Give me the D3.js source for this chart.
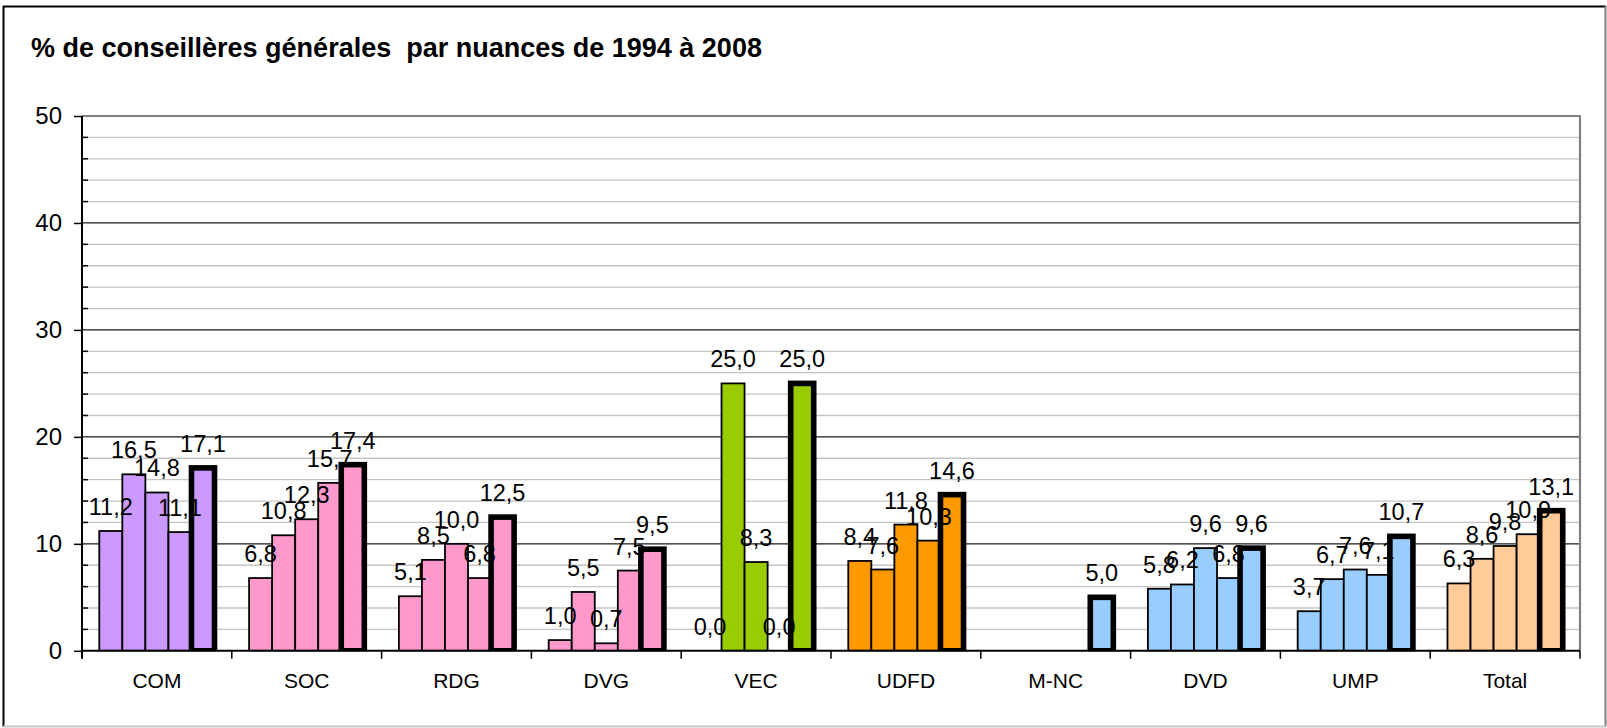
<!DOCTYPE html>
<html>
<head>
<meta charset="utf-8">
<script src="https://cdn.jsdelivr.net/npm/d3@7"></script>
<style>
  html, body { margin: 0; padding: 0; background: #fff; }
  svg { display: block; }
  text { font-family: "Liberation Sans", Arial, sans-serif; fill: #000; }
</style>
</head>
<body>
<svg id="chart" width="1607" height="728"></svg>
<script>
// ---- Data ----
const title = "% de conseillères générales  par nuances de 1994 à 2008";
const categories = ["COM", "SOC", "RDG", "DVG", "VEC", "UDFD", "M-NC", "DVD", "UMP", "Total"];
const years = ["1994", "1998", "2001", "2004", "2008"];
const v1994 = [11.2, 6.8, 5.1, 1.0, 0.0, 8.4, null, 5.8, 3.7, 6.3];
const v1998 = [16.5, 10.8, 8.5, 5.5, 25.0, 7.6, null, 6.2, 6.7, 8.6];
const v2001 = [14.8, 12.3, 10.0, 0.7, 8.3, 11.8, null, 9.6, 7.6, 9.8];
const v2004 = [11.1, 15.7, 6.8, 7.5, 0.0, 10.3, null, 6.8, 7.1, 10.9];
const v2008 = [17.1, 17.4, 12.5, 9.5, 25.0, 14.6, 5.0, 9.6, 10.7, 13.1];
const categoryColors = ["#CC99FF", "#FF99CC", "#FF99CC", "#FF99CC", "#99CC00", "#FF9900", "#99CCFF", "#99CCFF", "#99CCFF", "#FFCC99"];
const yTickLabels = [0, 10, 20, 30, 40, 50];
const yMinorTicks = [2, 4, 6, 8, 12, 14, 16, 18, 22, 24, 26, 28, 32, 34, 36, 38, 42, 44, 46, 48];

const seriesValues = [v1994, v1998, v2001, v2004, v2008];

// ---- Layout ----
const W = 1607, H = 728;
const plot = { left: 82, right: 1580, top: 116, bottom: 650.8 };

const svg = d3.select("#chart");
svg.append("rect").attr("width", W).attr("height", H).attr("fill", "#fff");

// outer frame
svg.append("line").attr("x1", 3.5).attr("y1", 6).attr("x2", 3.5).attr("y2", 727).attr("stroke", "#000").attr("stroke-width", 2);
svg.append("line").attr("x1", 3).attr("y1", 6.5).attr("x2", 1606).attr("y2", 6.5).attr("stroke", "#000").attr("stroke-width", 2);
svg.append("line").attr("x1", 1605.5).attr("y1", 6).attr("x2", 1605.5).attr("y2", 727).attr("stroke", "#808080").attr("stroke-width", 2);
svg.append("line").attr("x1", 3).attr("y1", 726.5).attr("x2", 1606).attr("y2", 726.5).attr("stroke", "#c8c8c8").attr("stroke-width", 2);

// title
svg.append("text").attr("x", 31).attr("y", 57)
  .attr("font-size", 27).attr("font-weight", "bold")
  .style("white-space", "pre").attr("xml:space", "preserve")
  .text(title);

// scales
const y = d3.scaleLinear().domain([0, 50]).range([plot.bottom, plot.top]);
const x = d3.scaleBand().domain(categories).range([plot.left, plot.right]).paddingInner(0).paddingOuter(0);
const xs = d3.scaleBand().domain(years).range([0, x.bandwidth()]).paddingInner(0).paddingOuter(0.75);

const locale = d3.formatLocale({ decimal: ",", thousands: " ", grouping: [3], currency: ["", " €"] });
const fmt = locale.format(".1f");

// minor gridlines
svg.append("g").selectAll("line").data(yMinorTicks).join("line")
  .attr("x1", plot.left).attr("x2", plot.right)
  .attr("y1", d => y(d)).attr("y2", d => y(d))
  .attr("stroke", "#c4c4c4").attr("stroke-width", 1.3);

// major gridlines
svg.append("g").selectAll("line").data(yTickLabels.filter(d => d > 0 && d < 50)).join("line")
  .attr("x1", plot.left).attr("x2", plot.right)
  .attr("y1", d => y(d)).attr("y2", d => y(d))
  .attr("stroke", "#1a1a1a").attr("stroke-width", 1.2);

// plot area border (top / right)
svg.append("line").attr("x1", plot.left).attr("x2", plot.right + 1)
  .attr("y1", y(50)).attr("y2", y(50)).attr("stroke", "#808080").attr("stroke-width", 2.2);
svg.append("line").attr("x1", plot.right).attr("x2", plot.right)
  .attr("y1", y(50)).attr("y2", plot.bottom).attr("stroke", "#808080").attr("stroke-width", 2.2);

// clip for bars
svg.append("clipPath").attr("id", "plotclip").append("rect")
  .attr("x", plot.left).attr("y", plot.top - 20).attr("width", plot.right - plot.left).attr("height", plot.bottom - plot.top + 20.5);

// bars
const barData = [];
categories.forEach((c, ci) => {
  seriesValues.forEach((arr, si) => {
    const v = arr[ci];
    if (v !== null && v !== undefined) barData.push({ c, ci, year: years[si], si, v });
  });
});

const barsG = svg.append("g").attr("clip-path", "url(#plotclip)");
barsG.selectAll("rect").data(barData).join("rect")
  .attr("x", d => x(d.c) + xs(d.year))
  .attr("width", xs.bandwidth())
  .attr("y", d => y(d.v))
  .attr("height", d => y(0) - y(d.v))
  .attr("fill", d => categoryColors[d.ci])
  .attr("stroke", "#000")
  .attr("stroke-width", d => d.si === years.length - 1 ? 5.6 : 1.8);

// y axis
const yAxis = d3.axisLeft(y).tickValues(yTickLabels).tickSize(8).tickPadding(12).tickFormat(d3.format("d"));
const yg = svg.append("g").attr("transform", `translate(${plot.left},0)`).call(yAxis);
yg.select(".domain").remove();
yg.selectAll(".tick line").attr("stroke", "#000").attr("stroke-width", 1.5);
yg.selectAll(".tick text").attr("font-size", 24).attr("font-family", "'Liberation Sans', Arial, sans-serif").attr("fill", "#000");

// minor ticks inside
svg.append("g").selectAll("line").data(yMinorTicks).join("line")
  .attr("x1", plot.left).attr("x2", plot.left + 6)
  .attr("y1", d => y(d)).attr("y2", d => y(d))
  .attr("stroke", "#000").attr("stroke-width", 1.5);

// x axis: category labels
const xAxis = d3.axisBottom(x).tickSize(0).tickPadding(0);
const xg = svg.append("g").attr("transform", `translate(0,${plot.bottom})`).call(xAxis);
xg.select(".domain").remove();
xg.selectAll(".tick text").attr("font-size", 21).attr("font-family", "'Liberation Sans', Arial, sans-serif").attr("fill", "#000")
  .attr("dy", null).attr("y", 37);

// category boundary ticks
const boundaries = categories.map(c => x(c)).concat([x(categories[categories.length - 1]) + x.bandwidth()]);
svg.append("g").selectAll("line").data(boundaries).join("line")
  .attr("x1", d => d).attr("x2", d => d)
  .attr("y1", plot.bottom).attr("y2", plot.bottom + 8)
  .attr("stroke", "#000").attr("stroke-width", 1.5);

// axis lines
svg.append("line").attr("x1", plot.left).attr("x2", plot.right)
  .attr("y1", plot.bottom).attr("y2", plot.bottom).attr("stroke", "#000").attr("stroke-width", 2);
svg.append("line").attr("x1", plot.left).attr("x2", plot.left)
  .attr("y1", y(50)).attr("y2", plot.bottom + 8).attr("stroke", "#000").attr("stroke-width", 2);

// data labels
svg.append("g").selectAll("text").data(barData).join("text")
  .attr("x", d => x(d.c) + xs(d.year) + xs.bandwidth() / 2)
  .attr("y", d => y(d.v) - 16)
  .attr("text-anchor", "middle")
  .attr("font-size", 23.5)
  .text(d => fmt(d.v));
</script>
</body>
</html>
